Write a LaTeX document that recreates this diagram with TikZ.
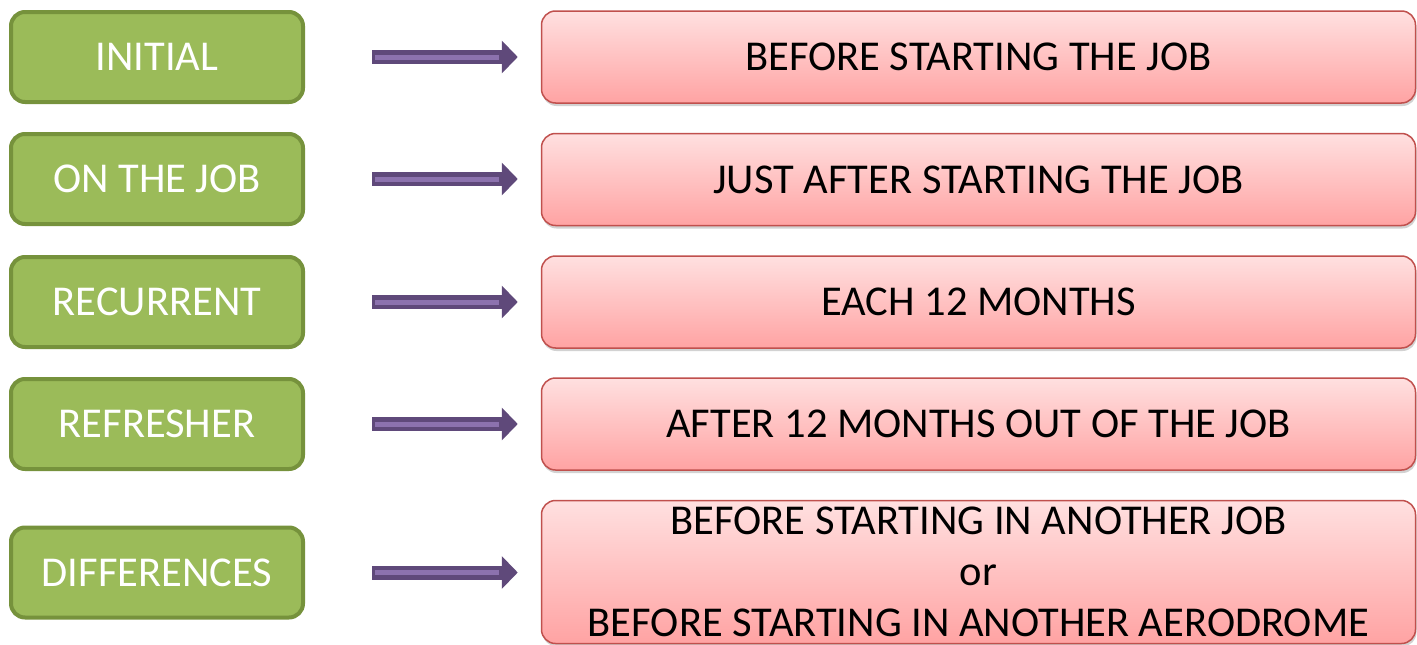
\documentclass[tikz,border=0pt]{standalone}
\usepackage{fontspec}
\setmainfont{Carlito}
\usetikzlibrary{arrows.meta,shadows,calc}
\definecolor{gfill}{HTML}{9BBB59}
\definecolor{gdraw}{HTML}{76923C}
\definecolor{ptop}{HTML}{FFE0E0}
\definecolor{pbot}{HTML}{FFA3A3}
\definecolor{pdraw}{HTML}{C0504D}
\definecolor{adark}{HTML}{5F497A}
\definecolor{alight}{HTML}{8C72AE}
\tikzset{
  greenbox/.style={draw=gdraw, line width=4pt, fill=gfill, rounded corners=14pt,
    minimum width=292pt, minimum height=90pt, text=white, inner sep=0pt,
    font=\fontsize{42.5}{51}\selectfont},
  pinkbox/.style={draw=pdraw, line width=1.5pt, top color=ptop, bottom color=pbot,
    rounded corners=14pt, minimum width=874pt, minimum height=92pt, inner sep=0pt,
    drop shadow={shadow xshift=1pt, shadow yshift=-3pt, fill=black!35, opacity=0.5},
    font=\fontsize{42.5}{51}\selectfont},
  arrowbody/.style={draw=adark, line width=14pt, shorten <=67pt, shorten >=23pt,
    -{Triangle[length=16pt,width=32pt]}},
  arrowstripe/.style={draw=alight, line width=5pt, shorten <=70pt, shorten >=42pt}
}
\begin{document}
\begin{tikzpicture}[x=1pt,y=1pt]
\useasboundingbox (0,0) rectangle (1417,-645);
% green boxes
\node[greenbox] (g1) at (157,-57) {INITIAL};
\node[greenbox] (g2) at (157,-179) {ON THE JOB};
\node[greenbox] (g3) at (157,-302) {RECURRENT};
\node[greenbox] (g4) at (157,-424) {REFRESHER};
\node[greenbox] (g5) at (157,-572.5) {DIFFERENCES};
% pink boxes
\node[pinkbox] (p1) at (978.5,-57) {BEFORE STARTING THE JOB};
\node[pinkbox] (p2) at (978.5,-179.5) {JUST AFTER STARTING THE JOB};
\node[pinkbox] (p3) at (978.5,-302) {EACH 12 MONTHS};
\node[pinkbox] (p4) at (978.5,-424) {AFTER 12 MONTHS OUT OF THE JOB};
\node[pinkbox, minimum height=143pt, align=center,
  font=\fontsize{42.5}{51}\selectfont] (p5) at (978.5,-572)
  {BEFORE STARTING IN ANOTHER JOB\\ or\\ BEFORE STARTING IN ANOTHER AERODROME};
% arrows
\foreach \i in {1,...,5}{
  \draw[arrowbody] (g\i.east) -- (g\i.east -| p\i.west);
  \draw[arrowstripe] (g\i.east) -- (g\i.east -| p\i.west);
}
\end{tikzpicture}
\end{document}
